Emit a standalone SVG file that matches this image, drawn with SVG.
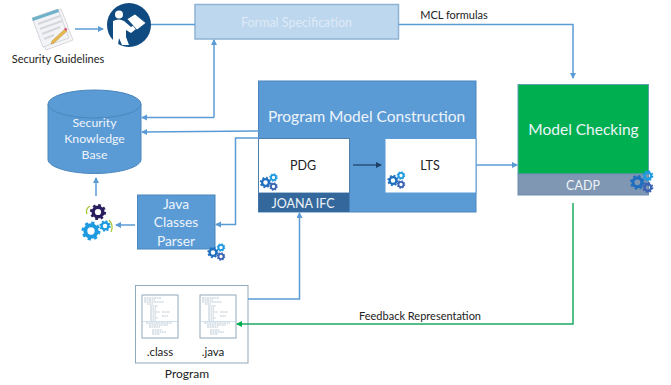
<svg xmlns="http://www.w3.org/2000/svg" width="671" height="385" viewBox="0 0 671 385">
<style>
text{font-family:"Lato","Open Sans","Liberation Sans",sans-serif;text-anchor:middle}
.w{fill:#eef4fa}.k{fill:#222}
.c{fill:none;stroke:#5b9bd5;stroke-width:1.5}
.b{fill:#5b9bd5;stroke:#4a86bd;stroke-width:1}
.p{fill:#fff;stroke:#4f7ea8;stroke-width:1}
.d{fill:#fff;stroke:#8fa9bd;stroke-width:1}
.l{stroke:#a9bccb;stroke-width:.8;stroke-dasharray:2 .5}
</style>
<defs>
<marker id="a" markerWidth="7" markerHeight="7" refX="5" refY="3" orient="auto" markerUnits="userSpaceOnUse"><path d="M0 0L6 3L0 6z" fill="#5b9bd5"/></marker>
<marker id="n" markerWidth="7" markerHeight="7" refX="5" refY="3" orient="auto" markerUnits="userSpaceOnUse"><path d="M0 0L6 3L0 6z" fill="#1f3f66"/></marker>
<marker id="g" markerWidth="7" markerHeight="7" refX="5" refY="3" orient="auto" markerUnits="userSpaceOnUse"><path d="M0 0L6 3L0 6z" fill="#00b050"/></marker>
<symbol id="gear" viewBox="-6 -6 12 12" overflow="visible">
<circle r="3.4" fill="none" stroke="currentColor" stroke-width="2.4"/>
<circle r="4.9" fill="none" stroke="currentColor" stroke-width="1.6" stroke-dasharray="1.9 1.95"/>
</symbol>
<g id="gears">
<use href="#gear" x="-8" y="-6.500" width="12" height="12" color="#1f6fc0"/>
<use href="#gear" x="1.500" y="-10" width="9" height="9" color="#1e9be0"/>
<use href="#gear" x="1.500" y="-1" width="9" height="9" color="#3a62b5"/>
</g>
<g id="doclines">
<path class="l" d="M2 3H19M2 5H13M2 7H22M5 9H11M8 11H16M8 13H14M8 15H14M8 17H18M20 17H28M8 19H14M8 21H14M20 21H26M8 23H16M8 25H14M4 28H30M7 30H26M7 32H18M10 35H20M10 37H24M10 39H18"/>
<path d="M1 26.500H35" stroke="#bcd4ea" stroke-width=".7"/>
</g>
</defs>

<g id="security-guidelines">
<path d="M34 20L61 9L73 40L46 50z" fill="#f6f6f8" stroke="#d8d8dc"/>
<path d="M32 18L58 9L69 38L43 47z" fill="#f2f3f6" stroke="#d5d6db"/>
<path d="M32 18L58 9L59 12L33 21z" fill="#6fb2c9"/>
<path d="M38 24L60 16M40 29L62 21M42 34L60 27M44 39L54 35" stroke="#d6d7dc" stroke-width="2"/>
<path d="M52 41L65 29L67 31L54 43L51 44z" fill="#e8b84f" stroke="#b58f39" stroke-width=".5"/>
<path d="M64 29L65.500 27.500L67.500 29.500L66 31z" fill="#d4587c"/>
<text x="58" y="63" font-size="11" class="k">Security Guidelines</text>
</g>

<g id="manual-icon">
<circle cx="129" cy="25" r="22" fill="#0f4a80"/>
<circle cx="119" cy="14.500" r="4" fill="#fff"/>
<path d="M113 21Q119 18 124 21L131 27L139 22L141 25L131 33L126 30V37L129 45H122L119 38L118 45H113z" fill="#fff"/>
<path d="M127 19L135 14L146 23L137 30z" fill="#fff" stroke="#0f4a80" stroke-width=".8"/>
</g>

<g id="formal-specification">
<rect x="195" y="4.500" width="203.500" height="34.500" fill="#bdd7ee" stroke="#8fb3d4" stroke-width="1.500"/>
<text x="296.500" y="27" font-size="12.500" fill="#dfeaf5">Formal Specification</text>
</g>

<g id="security-knowledge-base">
<path class="b" d="M48 104V159.500C48 167 69 173.500 94.500 173.500S141 167 141 159.500V104z"/>
<ellipse class="b" cx="94.500" cy="104" rx="46.500" ry="14"/>
<text class="w" font-size="12.300"><tspan x="94.500" y="127">Security</tspan><tspan x="94.500" y="143">Knowledge</tspan><tspan x="94.500" y="159">Base</tspan></text>
</g>

<g id="program-model-construction">
<rect class="b" x="258.500" y="81" width="217.500" height="131"/>
<text class="w" x="366.500" y="122" font-size="15.500">Program Model Construction</text>
</g>

<g id="pdg">
<rect class="p" x="258.500" y="138.500" width="91" height="54.500"/>
<text class="k" x="303" y="170" font-size="12.500">PDG</text>
<use href="#gears" x="267.500" y="183"/>
</g>

<g id="joana-ifc">
<rect x="258.500" y="193" width="91" height="19" fill="#34689c"/>
<text class="w" x="303" y="208" font-size="12.500">JOANA IFC</text>
</g>

<g id="lts">
<rect x="385" y="138.500" width="91" height="54.500" fill="#fff" stroke="#5b9bd5"/>
<text class="k" x="430" y="170" font-size="12.500">LTS</text>
<use href="#gears" x="395" y="181"/>
</g>

<g id="model-checking">
<rect x="518" y="84.500" width="130.500" height="89.500" fill="#00b050" stroke="#5e9fb0"/>
<text class="w" x="583.500" y="135" font-size="15.500">Model Checking</text>
</g>

<g id="cadp">
<rect x="518" y="174" width="130.500" height="21" fill="#7f97b2" stroke="#6c8cb0"/>
<text class="w" x="583" y="190" font-size="12.500">CADP</text>
<use href="#gears" x="0" y="0" transform="translate(640 183) scale(1.300)"/>
</g>

<g id="java-classes-parser">
<rect class="b" x="137.500" y="195" width="77.500" height="54"/>
<text class="w" font-size="13.800"><tspan x="176" y="209">Java</tspan><tspan x="176" y="227">Classes</tspan><tspan x="176" y="246">Parser</tspan></text>
<use href="#gears" x="215" y="253"/>
</g>

<g id="processing-gears">
<use href="#gear" x="89.500" y="203.500" width="17" height="17" color="#2a1d5e"/>
<use href="#gear" x="81" y="221" width="20" height="20" color="#1e9be0"/>
<use href="#gear" x="99" y="220" width="12" height="12" color="#1e9be0"/>
<path d="M87 214Q85 209 90 206M109 220Q114 225 111 232" fill="none" stroke="#a9c934" stroke-width="1.300"/>
</g>

<g id="program">
<rect x="135.500" y="285.500" width="112.500" height="77.500" fill="#fff" stroke="#8fa9bd"/>
<rect class="d" x="142" y="295" width="36" height="43"/>
<use href="#doclines" x="142" y="295"/>
<rect class="d" x="200" y="295" width="36" height="43"/>
<use href="#doclines" x="200" y="295"/>
<text class="k" x="160" y="356" font-size="11.500">.class</text>
<text class="k" x="213" y="356" font-size="11.500">.java</text>
<text class="k" x="187" y="378" font-size="12">Program</text>
</g>

<g id="connectors">
<path class="c" d="M75 29H103" marker-end="url(#a)" stroke-width="2"/>
<path class="c" d="M151 24.500H195"/>
<path class="c" d="M398.500 24.500H573V78" marker-end="url(#a)"/>
<path class="c" d="M214 117.500V40" marker-end="url(#a)"/>
<path class="c" d="M214 117.500H142" marker-end="url(#a)"/>
<path class="c" d="M259 131L142 132" marker-end="url(#a)"/>
<path class="c" d="M259 138H235.500V224.500H216" marker-end="url(#a)"/>
<path class="c" d="M96 196V178" marker-end="url(#a)"/>
<path class="c" d="M135 225H116" marker-end="url(#a)"/>
<path class="c" d="M476 165H517" marker-end="url(#a)"/>
<path class="c" d="M248 299H299.500V213" marker-end="url(#a)"/>
<path fill="none" stroke="#1cab63" stroke-width="1.500" d="M573 203V324H237" marker-end="url(#g)"/>
<path d="M353 165H381" stroke="#1f3f66" stroke-width="1.200" fill="none" marker-end="url(#n)"/>
</g>

<text class="k" x="420" y="320" font-size="11">Feedback Representation</text>
<text class="k" x="454" y="19" font-size="11">MCL formulas</text>
</svg>
